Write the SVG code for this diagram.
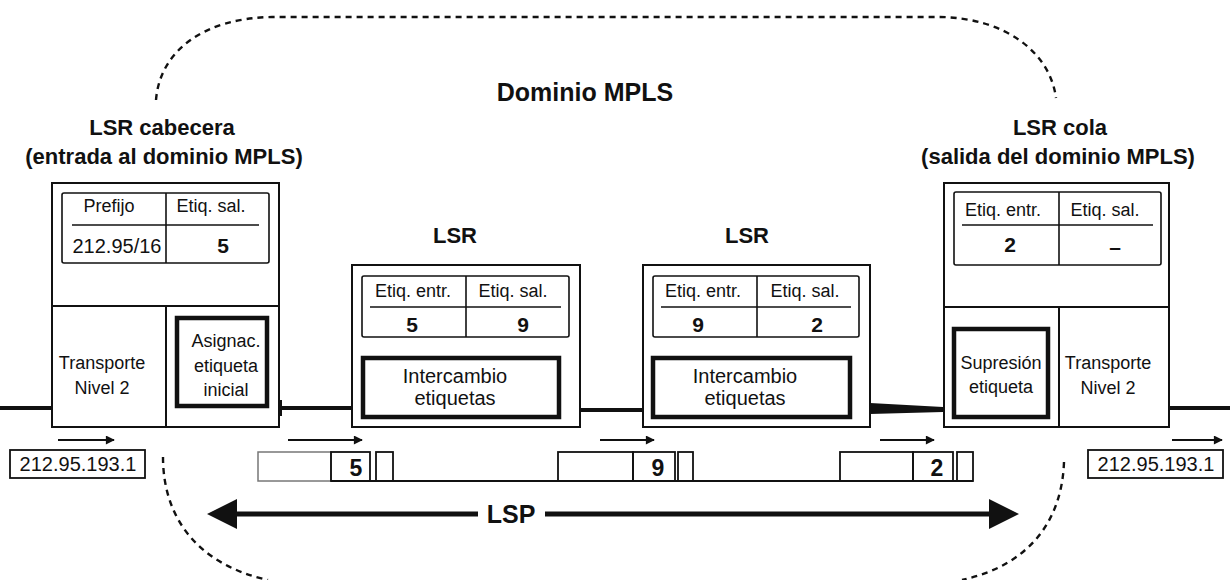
<svg xmlns="http://www.w3.org/2000/svg" width="1230" height="580" viewBox="0 0 1230 580">
<defs>
<style>
.t{font-family:"Liberation Sans",Arial,sans-serif;font-size:18px;fill:#111;text-anchor:middle}
.m{font-family:"Liberation Sans",Arial,sans-serif;font-size:20px;fill:#111;text-anchor:middle}
.b{font-family:"Liberation Sans",Arial,sans-serif;font-weight:bold;fill:#111;text-anchor:middle}
.ti{font-size:22px}
.v{font-size:21px}
.box{fill:#fff;stroke:#111;stroke-width:2}
.tab{fill:none;stroke:#111;stroke-width:1.6}
.thick{fill:none;stroke:#111;stroke-width:4.5}
.ln{stroke:#111;stroke-width:2;fill:none}
.pk{fill:none;stroke:#111;stroke-width:1.8}
.pkg{fill:none;stroke:#777;stroke-width:1.5}
.dash{fill:none;stroke:#111;stroke-width:2.4;stroke-dasharray:6 5}
.wire{stroke:#111;stroke-width:4;fill:none}
.arr{stroke:#111;stroke-width:2;fill:none;marker-end:url(#ah)}
</style>
<marker id="ah" viewBox="0 0 10 10" refX="9" refY="5" markerWidth="6" markerHeight="4.5" orient="auto" markerUnits="strokeWidth">
<path d="M0,0 L10,5 L0,10 z" fill="#111"/>
</marker>
<marker id="big" viewBox="0 0 10 10" refX="2" refY="5" markerWidth="7" markerHeight="6" orient="auto-start-reverse" markerUnits="strokeWidth">
<path d="M0,0 L10,5 L0,10 z" fill="#111"/>
</marker>
</defs>
<rect width="1230" height="580" fill="#fff"/>

<g id="domain">
<path class="dash" d="M156,100 C160,50 205,18 272,17 L940,17 C1005,18 1050,52 1056,98"/>
<path class="dash" d="M163,457 C163,520 200,565 268,580"/>
<path class="dash" d="M1064,462 C1062,520 1030,565 962,580"/>
<text class="b" x="585" y="101" style="font-size:25px">Dominio MPLS</text>
</g>

<g id="connectors">
<line class="wire" x1="0" y1="408" x2="52" y2="408"/>
<line class="wire" x1="279" y1="408" x2="352" y2="408"/>
<line class="ln" x1="281" y1="400" x2="281" y2="416"/>
<line class="wire" x1="580" y1="410" x2="643" y2="410"/>
<polygon points="870,403 943,407 943,412 870,414" fill="#111"/>
<line class="wire" x1="1169" y1="408" x2="1230" y2="408"/>
</g>

<g id="lsr-cabecera">
<text class="b ti" x="162" y="135">LSR cabecera</text>
<text class="b ti" x="164" y="164">(entrada al dominio MPLS)</text>
<rect class="box" x="52" y="183" width="227" height="244"/>
<line class="ln" x1="52" y1="306" x2="279" y2="306"/>
<line class="ln" x1="166" y1="306" x2="166" y2="427"/>
<rect class="tab" x="62" y="193" width="207" height="70" rx="2"/>
<line class="tab" x1="166" y1="193" x2="166" y2="263"/>
<line class="tab" x1="72" y1="225" x2="259" y2="225"/>
<text class="t" x="109" y="212">Prefijo</text>
<text class="t" x="211" y="212">Etiq. sal.</text>
<text class="m" x="117" y="253">212.95/16</text>
<text class="b v" x="223" y="253">5</text>
<text class="t" x="102" y="369">Transporte</text>
<text class="t" x="102" y="394">Nivel 2</text>
<rect class="thick" x="177" y="318" width="90" height="88"/>
<text class="t" x="226" y="347">Asignac.</text>
<text class="t" x="226" y="372">etiqueta</text>
<text class="t" x="226" y="396">inicial</text>
</g>

<g id="lsr-1">
<text class="b ti" x="455" y="243">LSR</text>
<rect class="box" x="352" y="265" width="228" height="162"/>
<rect class="tab" x="362" y="276" width="207" height="61" rx="2"/>
<line class="tab" x1="466" y1="276" x2="466" y2="337"/>
<line class="tab" x1="370" y1="307" x2="561" y2="307"/>
<text class="t" x="413" y="297">Etiq. entr.</text>
<text class="t" x="513" y="297">Etiq. sal.</text>
<text class="b v" x="412" y="332">5</text>
<text class="b v" x="523" y="332">9</text>
<rect class="thick" x="363" y="358" width="196" height="59"/>
<text class="m" x="455" y="383">Intercambio</text>
<text class="m" x="455" y="405">etiquetas</text>
</g>

<g id="lsr-2">
<text class="b ti" x="747" y="243">LSR</text>
<rect class="box" x="643" y="265" width="227" height="162"/>
<rect class="tab" x="653" y="276" width="206" height="61" rx="2"/>
<line class="tab" x1="757" y1="276" x2="757" y2="337"/>
<line class="tab" x1="661" y1="307" x2="851" y2="307"/>
<text class="t" x="703" y="297">Etiq. entr.</text>
<text class="t" x="805" y="297">Etiq. sal.</text>
<text class="b v" x="698" y="332">9</text>
<text class="b v" x="817" y="332">2</text>
<rect class="thick" x="653" y="358" width="197" height="59"/>
<text class="m" x="745" y="383">Intercambio</text>
<text class="m" x="745" y="405">etiquetas</text>
</g>

<g id="lsr-cola">
<text class="b ti" x="1060" y="135">LSR cola</text>
<text class="b ti" x="1058" y="164">(salida del dominio MPLS)</text>
<rect class="box" x="944" y="183" width="225" height="244"/>
<line class="ln" x1="944" y1="307" x2="1169" y2="307"/>
<line class="ln" x1="1059" y1="307" x2="1059" y2="427"/>
<rect class="tab" x="954" y="192" width="207" height="73" rx="2"/>
<line class="tab" x1="1059" y1="192" x2="1059" y2="265"/>
<line class="tab" x1="962" y1="225" x2="1153" y2="225"/>
<text class="t" x="1003" y="216">Etiq. entr.</text>
<text class="t" x="1105" y="216">Etiq. sal.</text>
<text class="b v" x="1010" y="252">2</text>
<text class="b v" x="1115" y="254">–</text>
<rect class="thick" x="954" y="329" width="94" height="88"/>
<text class="t" x="1001" y="369">Supresión</text>
<text class="t" x="1001" y="393">etiqueta</text>
<text class="t" x="1108" y="369">Transporte</text>
<text class="t" x="1108" y="394">Nivel 2</text>
</g>

<g id="packets">
<line class="arr" x1="58" y1="440" x2="114" y2="440"/>
<rect class="pk" x="10" y="450" width="135" height="28"/>
<text class="m" x="78" y="471">212.95.193.1</text>

<line class="arr" x1="288" y1="440" x2="362" y2="440"/>
<rect class="pkg" x="258" y="452" width="73" height="29"/>
<rect class="pk" x="331" y="452" width="39" height="29"/>
<rect class="pk" x="376" y="452" width="17" height="29"/>
<text class="b" x="356" y="476" style="font-size:23px">5</text>

<line class="arr" x1="600" y1="440" x2="654" y2="440"/>
<rect class="pk" x="558" y="452" width="75" height="29"/>
<rect class="pk" x="633" y="452" width="42" height="29"/>
<rect class="pk" x="678" y="452" width="15" height="29"/>
<text class="b" x="658" y="476" style="font-size:23px">9</text>

<line class="arr" x1="880" y1="440" x2="934" y2="440"/>
<rect class="pk" x="840" y="452" width="73" height="29"/>
<rect class="pk" x="913" y="452" width="40" height="29"/>
<rect class="pk" x="957" y="452" width="16" height="29"/>
<text class="b" x="937" y="476" style="font-size:23px">2</text>

<line class="pk" x1="331" y1="481" x2="973" y2="481"/>

<line class="arr" x1="1172" y1="440" x2="1222" y2="440"/>
<rect class="pk" x="1088" y="450" width="135" height="28"/>
<text class="m" x="1156" y="471">212.95.193.1</text>
</g>

<g id="lsp">
<line x1="478" y1="514" x2="231" y2="514" stroke="#111" stroke-width="5" marker-end="url(#big)"/>
<line x1="545" y1="514" x2="995" y2="514" stroke="#111" stroke-width="5" marker-end="url(#big)"/>
<text class="b" x="511" y="523" style="font-size:25px">LSP</text>
</g>
</svg>
